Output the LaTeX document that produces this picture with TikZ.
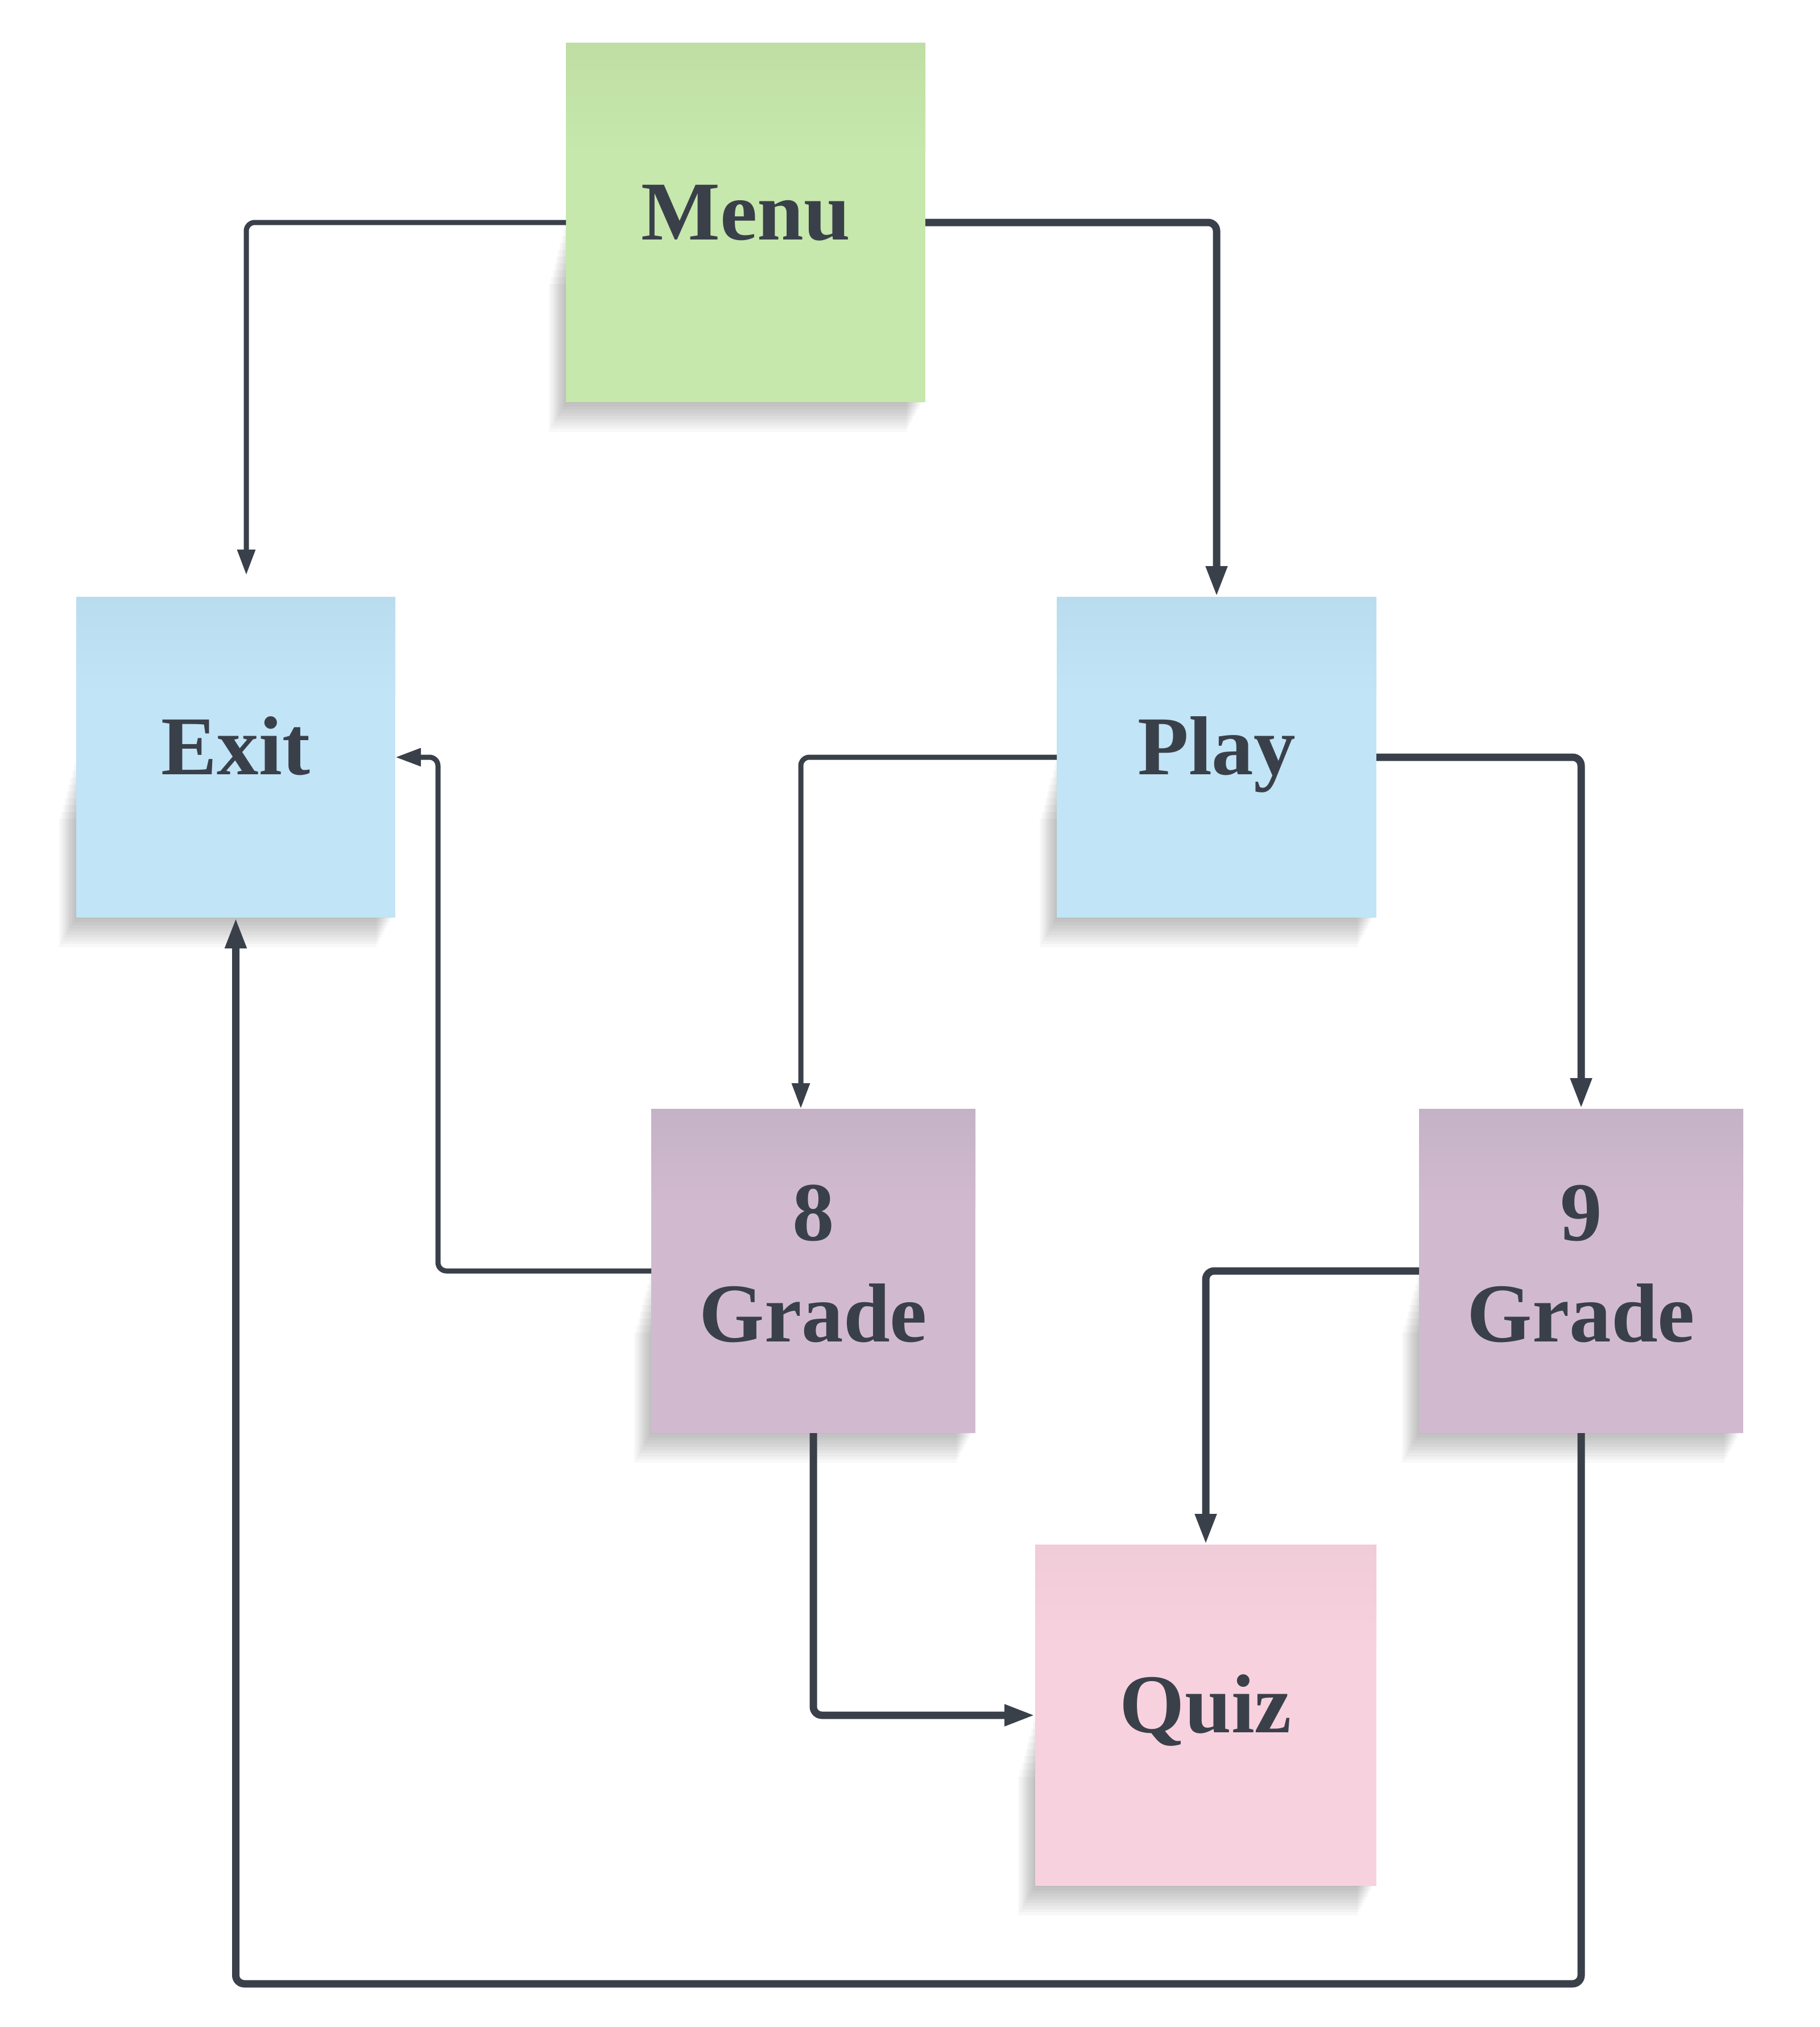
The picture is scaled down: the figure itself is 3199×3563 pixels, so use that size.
\documentclass[tikz,border=0pt]{standalone}
\usepackage{fontspec}
\setmainfont{Liberation Serif}
\usetikzlibrary{arrows.meta}
\definecolor{ink}{HTML}{3A404A}
\definecolor{menuTop}{HTML}{BFDEA3}
\definecolor{menuMain}{HTML}{C6E8AC}
\definecolor{blueTop}{HTML}{BADCEF}
\definecolor{blueMain}{HTML}{C1E4F6}
\definecolor{purpTop}{HTML}{C5B2C6}
\definecolor{purpMain}{HTML}{D1BAD0}
\definecolor{pinkTop}{HTML}{F0CBD8}
\definecolor{pinkMain}{HTML}{F8D1DE}
\newcommand\stickynote[6]{%
  \foreach \k in {0,...,9}{%
    \fill[black,opacity=0.026] ({#1-1-\k*3.2},{#2+0.5*(#4-#2)+\k*12}) rectangle ({#3-6-\k*3},{#4+2+\k*5.5});
  }%
  \fill[#6] (#1,#2) rectangle (#3,#4);
  \shade[top color=#5,bottom color=#6] (#1,#2) rectangle (#3,{#2+0.3*(#4-#2)});
}
\tikzset{
  note/.style={rectangle, inner sep=0pt, outer sep=0pt, text=ink,
    font=\fontsize{147}{178}\selectfont\bfseries},
  oneline/.style={text height=110pt, text depth=50pt},
  twoline/.style={text height=300pt, text depth=52pt},
  conthick/.style={draw=ink, line width=13pt, rounded corners=15pt,
    -{Triangle[length=54pt,width=35pt]}},
  conthin/.style={draw=ink, line width=9pt, rounded corners=15pt,
    -{Triangle[length=45pt,width=30pt]}}
}
\begin{document}
\begin{tikzpicture}[x=1pt,y=-1pt]
\fill[white] (0,0) rectangle (3199,3563);
\useasboundingbox (0,0) rectangle (3199,3563);

% sticky-note backgrounds
\stickynote{995}{75}{1627}{707}{menuTop}{menuMain}
\stickynote{134}{1049}{695}{1613}{blueTop}{blueMain}
\stickynote{1858}{1049}{2420}{1613}{blueTop}{blueMain}
\stickynote{1145}{1949}{1715}{2519}{purpTop}{purpMain}
\stickynote{2495}{1949}{3065}{2519}{purpTop}{purpMain}
\stickynote{1820}{2715}{2420}{3315}{pinkTop}{pinkMain}

% nodes
\node[note, oneline, minimum width=632pt, minimum height=632pt] (menu) at (1311,391) {Menu};
\node[note, oneline, minimum width=561pt, minimum height=564pt] (exit) at (414.5,1331) {Exit};
\node[note, oneline, minimum width=562pt, minimum height=564pt] (play) at (2139,1331) {Play};
\node[note, twoline, minimum width=570pt, minimum height=570pt] (g8) at (1430,2234)
  {\begin{tabular}[b]{@{}c@{}}8\\Grade\end{tabular}};
\node[note, twoline, minimum width=570pt, minimum height=570pt] (g9) at (2780,2234)
  {\begin{tabular}[b]{@{}c@{}}9\\Grade\end{tabular}};
\node[note, oneline, minimum width=600pt, minimum height=600pt] (quiz) at (2120,3015) {Quiz};

\coordinate (exittop) at (433,1011);

% connectors
\draw[conthin] (menu.west) -| (exittop);
\draw[conthick] (menu.east) -| (play.north);
\draw[conthin] (play.west) -| ([xshift=-22pt]g8.north);
\draw[conthick] (play.east) -| (g9.north);
\draw[conthin] (g8.west) -- ++(-375,0) |- (exit.east);
\draw[conthick] (g9.west) -| (quiz.north);
\draw[conthick] (g8.south) |- (quiz.west);
\draw[conthick] (g9.south) -- ++(0,968) -| (exit.south);
\end{tikzpicture}
\end{document}
